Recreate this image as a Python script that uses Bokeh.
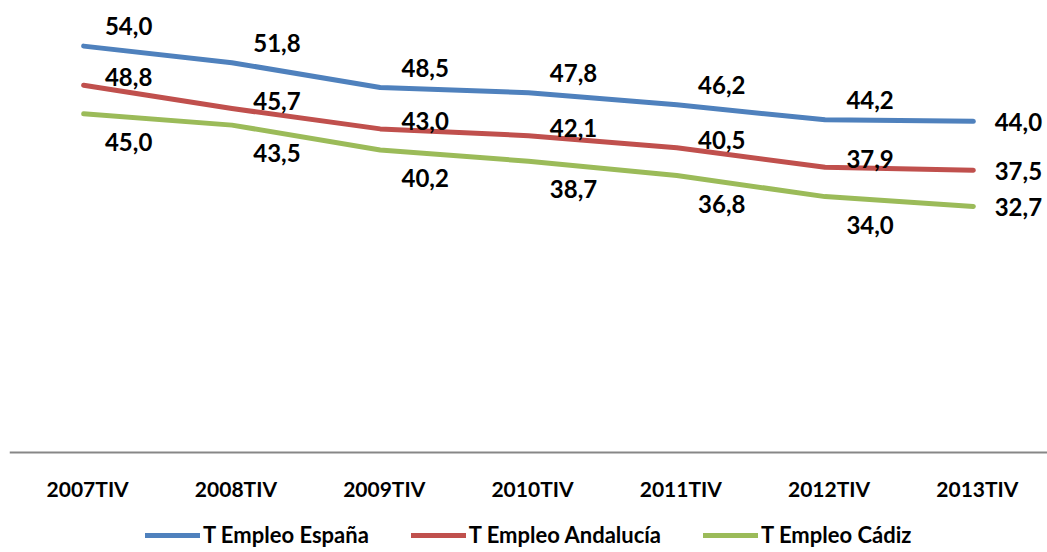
from bokeh.plotting import figure
from bokeh.models import ColumnDataSource, Range1d, Legend, LegendItem, Span
from bokeh.core.properties import value
from bokeh.embed import file_html
from bokeh.resources import INLINE

periods = ["2007TIV", "2008TIV", "2009TIV", "2010TIV", "2011TIV", "2012TIV", "2013TIV"]
espana = [54.0, 51.8, 48.5, 47.8, 46.2, 44.2, 44.0]
andalucia = [48.8, 45.7, 43.0, 42.1, 40.5, 37.9, 37.5]
cadiz = [45.0, 43.5, 40.2, 38.7, 36.8, 34.0, 32.7]
series_names = ["T Empleo España", "T Empleo Andalucía", "T Empleo Cádiz"]

colors = ["#4F81BD", "#C0504D", "#9BBB59"]
label_up = [20, 8, -28]  # label shift in screen px, positive = up

FONT = "Lato"

# frame covers the whole figure below the 8px top border; value axis 0 sits
# at the category baseline, the space below holds category labels and legend
p = figure(x_range=periods, y_range=Range1d(-13.3, 59),
           width=1047, height=552,
           output_backend="svg", toolbar_location=None,
           min_border_left=9, min_border_right=0, min_border_top=8,
           min_border_bottom=0, outline_line_color=None)
p.grid.visible = False
p.xaxis.visible = False
p.yaxis.visible = False

items = []
for name, vals, col, up in zip(series_names, [espana, andalucia, cadiz], colors, label_up):
    n = len(vals)
    src = ColumnDataSource(dict(x=periods, y=vals,
                                lab=[f"{v:.1f}".replace(".", ",") for v in vals],
                                dy=[-up] * (n - 1) + [1]))
    r = p.line("x", "y", source=src, line_color=col, line_width=5,
               line_cap="round", line_join="round")
    p.text("x", "y", text="lab", source=src, x_offset=45, y_offset="dy",
           text_align="center", text_baseline="middle",
           text_font=value(FONT), text_font_style="bold", text_font_size="24px",
           text_color="black")
    items.append(LegendItem(label=name, renderers=[r]))

# category axis: baseline and labels
p.add_layout(Span(location=0, dimension="width", line_color="#878787", line_width=2))
cat_src = ColumnDataSource(dict(x=periods, y=[0] * len(periods), lab=periods))
p.text("x", "y", text="lab", source=cat_src, x_offset=4, y_offset=36,
       text_align="center", text_baseline="middle",
       text_font=value(FONT), text_font_style="bold", text_font_size="21px",
       text_color="black")

legend = Legend(items=items, orientation="horizontal", location=(136, 4),
                glyph_width=55, glyph_height=24, label_standoff=3, spacing=42,
                border_line_color=None, background_fill_alpha=0,
                padding=0, margin=0, label_height=24,
                label_text_font=FONT, label_text_font_style="bold",
                label_text_font_size="22px", label_text_color="black")
p.add_layout(legend, "center")

open("out.html", "w").write(file_html(p, INLINE))
